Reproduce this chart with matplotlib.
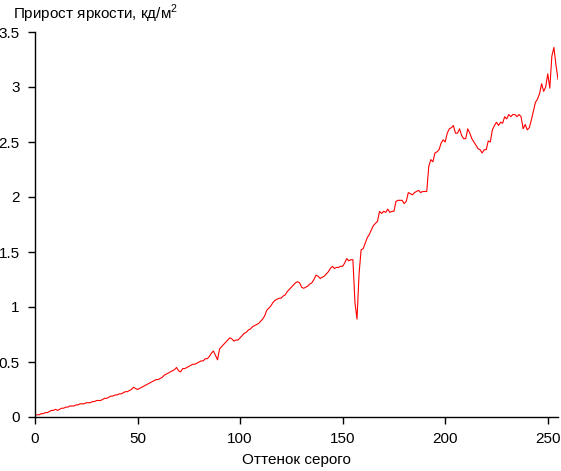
import numpy as np
import matplotlib
matplotlib.use('Agg')
import matplotlib.pyplot as plt

plt.rcParams['font.family'] = ['Liberation Sans', 'DejaVu Sans']
plt.rcParams['mathtext.fontset'] = 'custom'
plt.rcParams['mathtext.rm'] = 'Liberation Sans'

# Brightness increment per grey level
brightness_step = [
    0.02, 0.02, 0.02, 0.03, 0.03, 0.04, 0.04, 0.05, 0.06, 0.06,
    0.07, 0.06, 0.07, 0.08, 0.08, 0.09, 0.09, 0.10, 0.10, 0.10,
    0.11, 0.11, 0.12, 0.12, 0.12, 0.13, 0.13, 0.13, 0.14, 0.14,
    0.15, 0.15, 0.15, 0.16, 0.17, 0.17, 0.18, 0.19, 0.19, 0.20,
    0.20, 0.21, 0.21, 0.22, 0.23, 0.23, 0.24, 0.25, 0.27, 0.26,
    0.25, 0.26, 0.27, 0.28, 0.29, 0.30, 0.31, 0.32, 0.33, 0.34,
    0.34, 0.35, 0.36, 0.38, 0.39, 0.40, 0.41, 0.42, 0.43, 0.45,
    0.42, 0.41, 0.44, 0.44, 0.45, 0.46, 0.47, 0.48, 0.48, 0.49,
    0.50, 0.51, 0.51, 0.53, 0.53, 0.55, 0.58, 0.60, 0.56, 0.52,
    0.62, 0.64, 0.66, 0.68, 0.70, 0.72, 0.71, 0.69, 0.70, 0.70,
    0.72, 0.74, 0.76, 0.77, 0.79, 0.80, 0.82, 0.83, 0.84, 0.85,
    0.87, 0.89, 0.92, 0.97, 0.99, 1.01, 1.04, 1.06, 1.07, 1.08,
    1.08, 1.10, 1.11, 1.14, 1.16, 1.18, 1.20, 1.22, 1.23, 1.22,
    1.18, 1.17, 1.18, 1.19, 1.21, 1.22, 1.25, 1.29, 1.28, 1.26,
    1.27, 1.28, 1.30, 1.32, 1.35, 1.37, 1.35, 1.36, 1.36, 1.37,
    1.37, 1.40, 1.44, 1.42, 1.43, 1.43, 1.04, 0.89, 1.30, 1.52,
    1.53, 1.58, 1.63, 1.66, 1.70, 1.74, 1.76, 1.78, 1.87, 1.85,
    1.87, 1.86, 1.89, 1.86, 1.87, 1.87, 1.96, 1.97, 1.97, 1.97,
    1.94, 1.96, 2.04, 2.03, 2.02, 2.04, 2.05, 2.06, 2.04, 2.05,
    2.05, 2.05, 2.28, 2.34, 2.32, 2.40, 2.41, 2.43, 2.49, 2.52,
    2.50, 2.58, 2.62, 2.63, 2.65, 2.58, 2.58, 2.62, 2.56, 2.53,
    2.53, 2.62, 2.58, 2.53, 2.50, 2.47, 2.44, 2.43, 2.40, 2.43,
    2.43, 2.51, 2.50, 2.61, 2.65, 2.68, 2.65, 2.68, 2.67, 2.73,
    2.71, 2.75, 2.73, 2.75, 2.75, 2.73, 2.75, 2.73, 2.62, 2.66,
    2.61, 2.63, 2.70, 2.78, 2.86, 2.89, 2.94, 3.03, 2.96, 3.00,
    3.12, 2.99, 3.28, 3.36, 3.20, 3.07,
]
grey_level = np.arange(len(brightness_step))

x_ticks = [0, 50, 100, 150, 200, 250]
y_ticks = [0, 0.5, 1, 1.5, 2, 2.5, 3, 3.5]
y_labels = ['0', '0.5', '1', '1.5', '2', '2.5', '3', '3.5']

fig = plt.figure(figsize=(5.61, 4.71), dpi=100)
ax = fig.add_axes([35 / 561, 1 - 417 / 471, 523 / 561, 385 / 471])

ax.plot(grey_level, brightness_step, color='#ff0000', linewidth=0.8)

ax.set_xlim(0, 255)
ax.set_ylim(0, 3.5)
ax.set_xticks(x_ticks)
ax.set_yticks(y_ticks)
ax.set_yticklabels(y_labels)

for side in ['top', 'right']:
    ax.spines[side].set_visible(False)
for side in ['left', 'bottom']:
    ax.spines[side].set_linewidth(1.0)

ax.tick_params(axis='both', direction='out', length=5, width=1,
               labelsize=11, pad=6)
ax.set_xlabel('Оттенок серого', fontsize=11, labelpad=5)

fig.text(13 / 561, 1 - 3 / 471, 'Прирост яркости, кд/м$^2$', fontsize=11,
         ha='left', va='top')

fig.savefig('out.png', dpi=100)
